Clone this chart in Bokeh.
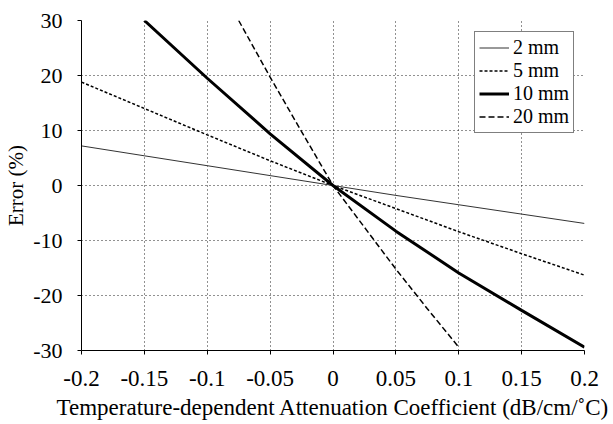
from bokeh.plotting import figure
from bokeh.models import Range1d, FixedTicker, Legend, LegendItem
from bokeh.embed import file_html
from bokeh.resources import INLINE

# Data
x_2mm = [-0.2, -0.15, -0.1, -0.05, 0.0, 0.05, 0.1, 0.15, 0.2]
y_2mm = [7.2, 5.4, 3.6, 1.8, 0.0, -1.8, -3.5, -5.2, -6.9]

x_5mm = [-0.2, -0.15, -0.1, -0.05, 0.0, 0.05, 0.1, 0.15, 0.2]
y_5mm = [18.8, 14.0, 9.2, 4.5, 0.0, -4.2, -8.4, -12.4, -16.3]

x_10mm = [-0.15, -0.1, -0.05, 0.0, 0.05, 0.1, 0.15, 0.2]
y_10mm = [30.0, 19.5, 9.4, 0.0, -8.3, -15.9, -22.7, -29.4]

x_20mm = [-0.075, -0.05, -0.025, 0.0, 0.025, 0.05, 0.075, 0.1]
y_20mm = [30.0, 19.7, 9.8, 0.0, -7.6, -15.2, -22.4, -29.4]

x_ticks = [-0.2, -0.15, -0.1, -0.05, 0.0, 0.05, 0.1, 0.15, 0.2]
x_tick_labels = ["-0.2", "-0.15", "-0.1", "-0.05", "0", "0.05", "0.1", "0.15", "0.2"]
y_ticks = [-30, -20, -10, 0, 10, 20, 30]
y_tick_labels = ["-30", "-20", "-10", "0", "10", "20", "30"]

FONT = "Liberation Serif"

p = figure(width=613, height=424, output_backend="svg", toolbar_location=None,
           x_range=Range1d(-0.2, 0.2), y_range=Range1d(-30, 30),
           min_border_left=81, min_border_right=29, min_border_top=20, min_border_bottom=74)
p.outline_line_color = None
p.background_fill_color = "white"

r2 = p.line(x_2mm, y_2mm, line_color="#333333", line_width=1)
r5 = p.line(x_5mm, y_5mm, line_color="black", line_width=1.5, line_dash="3 2")
r10 = p.line(x_10mm, y_10mm, line_color="black", line_width=3)
r20 = p.line(x_20mm, y_20mm, line_color="black", line_width=1.5, line_dash="6 3")

for ax, ticks, labels in ((p.xaxis[0], x_ticks, x_tick_labels), (p.yaxis[0], y_ticks, y_tick_labels)):
    ax.ticker = FixedTicker(ticks=ticks)
    ax.major_label_overrides = {t: l for t, l in zip(ticks, labels)}
    ax.major_label_text_font = FONT
    ax.major_label_text_color = "black"
    ax.axis_label_text_font = FONT
    ax.axis_label_text_font_style = "normal"
    ax.axis_label_text_color = "black"
    ax.axis_line_color = "black"
    ax.axis_line_width = 1
    ax.major_tick_line_color = "black"
    ax.major_tick_out = 4
    ax.major_tick_in = 0
    ax.minor_tick_line_color = None

p.xaxis[0].major_label_text_font_size = "23px"
p.yaxis[0].major_label_text_font_size = "22px"
p.xaxis[0].axis_label_text_font_size = "23px"
p.yaxis[0].axis_label_text_font_size = "21px"
p.xaxis[0].axis_label = "Temperature-dependent Attenuation Coefficient (dB/cm/\u02daC)"
p.yaxis[0].axis_label = "Error (%)"
p.xaxis[0].major_label_standoff = 16
p.yaxis[0].major_label_standoff = 15
p.xaxis[0].axis_label_standoff = 6
p.yaxis[0].axis_label_standoff = 2

for g in (p.xgrid[0], p.ygrid[0]):
    g.grid_line_color = "#222222"
    g.grid_line_dash = "1 3"
    g.grid_line_width = 1

legend = Legend(items=[
    LegendItem(label="2 mm", renderers=[r2]),
    LegendItem(label="5 mm", renderers=[r5]),
    LegendItem(label="10 mm", renderers=[r10]),
    LegendItem(label="20 mm", renderers=[r20]),
], location=(393, 217))
legend.label_text_font = FONT
legend.label_text_font_size = "20px"
legend.label_text_color = "black"
legend.glyph_width = 30
legend.glyph_height = 23
legend.label_height = 23
legend.label_standoff = 4
legend.spacing = 0
legend.padding = 4
legend.margin = 0
legend.border_line_color = "black"
legend.border_line_width = 1
legend.background_fill_alpha = 1
p.add_layout(legend)

open("out.html", "w").write(file_html(p, INLINE))
